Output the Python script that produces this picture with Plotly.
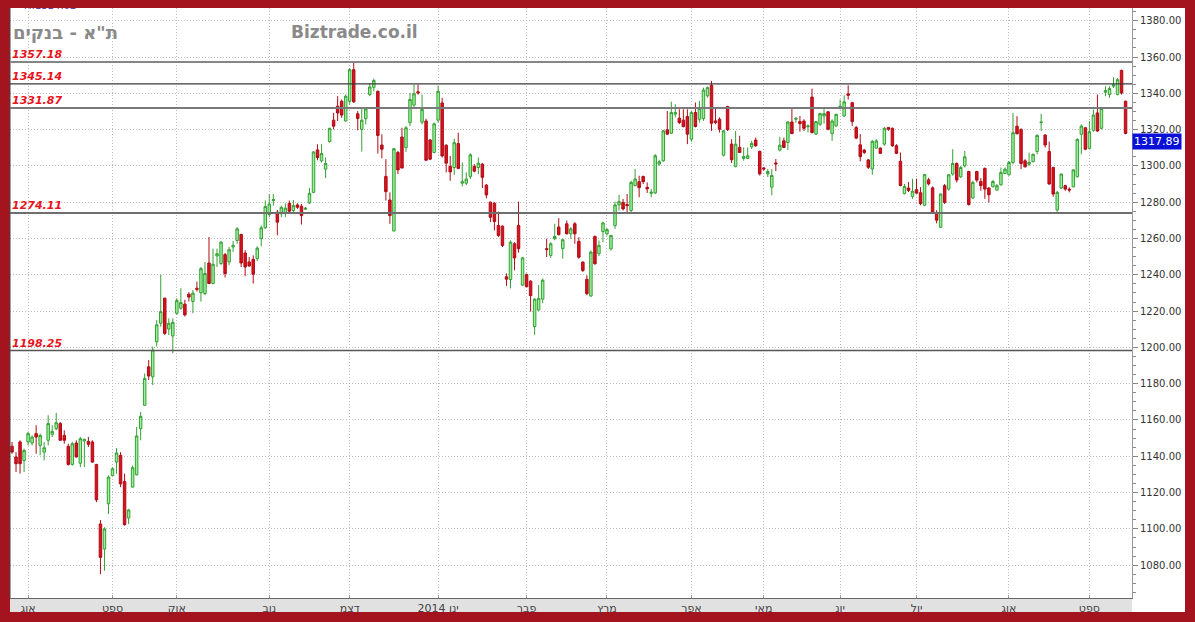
import plotly.graph_objects as go

# ---------------- data ----------------
opens = [
    1145.5, 1139.6, 1147.9, 1137.7, 1147.9, 1147.3, 1152.5, 1146.0, 1142.3, 1148.8,
    1152.1, 1155.2, 1158.0, 1151.5, 1145.5, 1135.5, 1147.3, 1136.2, 1148.4, 1148.2,
    1147.9, 1135.5, 1102.7, 1088.9, 1113.8, 1129.4, 1136.8, 1140.5, 1126.1, 1106.0,
    1123.0, 1129.8, 1155.2, 1168.1, 1189.3, 1183.8, 1203.1, 1213.3, 1227.1, 1210.1,
    1206.3, 1218.8, 1221.6, 1223.8, 1229.3, 1225.3, 1232.6,
    1230.1, 1229.7, 1246.5, 1235.2, 1250.4, 1246.2, 1251.1, 1247.1, 1255.3, 1258.9,
    1262.2, 1252.0, 1247.1, 1248.5, 1248.9, 1259.9, 1265.9, 1273.2, 1280.9, 1274.5,
    1273.6, 1274.3, 1279.4, 1275.4, 1278.5, 1277.8, 1276.1, 1279.6, 1285.4, 1308.8,
    1302.8, 1298.2, 1313.4, 1325.2, 1332.9, 1335.6, 1324.7, 1335.6, 1353.0, 1328.7,
    1320.1, 1326.0, 1339.3, 1343.3, 1341.1, 1311.5,
    1294.2, 1281.2, 1264.1, 1307.4, 1315.9, 1310.1, 1323.8, 1333.5, 1340.8, 1324.1,
    1324.7, 1314.3, 1307.4, 1325.2, 1334.7, 1311.4, 1299.7, 1299.1, 1312.3, 1290.5,
    1290.5, 1294.2, 1299.7, 1299.1, 1301.0, 1289.4, 1280.0, 1279.4, 1267.2, 1266.8,
    1238.9, 1237.4, 1257.1, 1267.2, 1234.3, 1240.1, 1236.5, 1211.5, 1220.6, 1226.6,
    1254.4, 1250.7, 1259.9, 1266.3, 1254.4,
    1268.1, 1262.6, 1268.1, 1258.4, 1247.0, 1237.5, 1228.3, 1261.1, 1251.6, 1263.8,
    1262.6, 1254.3, 1267.1, 1278.5, 1279.9, 1278.7, 1275.4, 1289.1, 1291.3, 1294.2,
    1288.2, 1284.9, 1285.1, 1301.0, 1302.8, 1319.9, 1318.0, 1328.5, 1326.3, 1325.2,
    1327.2, 1314.7, 1329.4, 1325.7, 1326.1, 1338.6, 1344.4, 1324.8, 1325.7, 1305.9,
    1332.7, 1312.0, 1299.7, 1310.2, 1304.1, 1304.1,
    1310.5, 1314.2, 1308.0, 1298.9, 1295.6, 1288.3, 1301.6, 1308.7, 1313.8, 1312.9,
    1324.2, 1325.7, 1324.4, 1324.7, 1321.5, 1337.9, 1317.5, 1322.9, 1327.5, 1329.8,
    1317.8, 1322.0, 1332.0, 1327.5, 1339.7, 1334.8, 1321.1, 1311.6, 1308.7, 1303.3,
    1298.3, 1309.8, 1309.8, 1312.0, 1321.1, 1320.7, 1311.1, 1302.5, 1284.7, 1287.8,
    1283.2, 1286.9, 1285.2, 1278.3, 1292.3, 1287.9, 1273.7,
    1266.2, 1289.1, 1287.2, 1295.5, 1301.3, 1294.0, 1300.0, 1296.9, 1282.3, 1296.9,
    1291.4, 1298.6, 1287.8, 1288.5, 1286.7, 1289.6, 1295.8, 1295.1, 1301.9, 1321.9,
    1320.1, 1302.8, 1300.9, 1302.4, 1307.9, 1323.8, 1317.0, 1307.9, 1299.1, 1275.7,
    1287.8, 1289.1, 1287.2, 1288.5, 1294.0, 1317.4, 1321.0, 1309.7, 1319.6, 1329.2,
    1320.7, 1340.6, 1339.3, 1343.9, 1339.3, 1352.6, 1335.6,
]
highs = [
    1147.9, 1142.3, 1148.8, 1144.2, 1153.4, 1151.5, 1157.1, 1152.5, 1147.9, 1162.6,
    1157.1, 1163.9, 1158.9, 1154.3, 1146.9, 1147.9, 1148.8, 1150.6, 1149.7, 1150.6,
    1148.8, 1135.8, 1104.9, 1100.9, 1129.4, 1134.0, 1144.5, 1142.3, 1130.4, 1111.0,
    1134.9, 1156.1, 1164.4, 1185.6, 1193.0, 1200.4, 1215.1, 1240.0, 1227.4, 1216.0,
    1216.0, 1227.1, 1232.6, 1226.2, 1230.4, 1231.7, 1236.3,
    1244.3, 1247.1, 1260.8, 1254.4, 1254.4, 1258.6, 1252.0, 1255.3, 1258.6, 1266.2,
    1262.6, 1253.5, 1249.8, 1250.7, 1255.7, 1267.2, 1280.9, 1284.5, 1284.5, 1275.7,
    1278.1, 1279.4, 1280.9, 1281.2, 1279.4, 1279.0, 1277.2, 1287.8, 1308.2, 1311.9,
    1311.9, 1304.6, 1321.0, 1329.2, 1338.4, 1336.6, 1339.3, 1353.9, 1357.2, 1330.2,
    1331.4, 1332.0, 1345.7, 1348.1, 1341.5, 1317.4,
    1303.7, 1285.4, 1309.5, 1308.3, 1321.0, 1321.9, 1340.2, 1344.8, 1344.8, 1339.3,
    1326.0, 1314.7, 1323.8, 1344.2, 1337.5, 1311.9, 1305.5, 1315.0, 1318.3, 1301.9,
    1296.4, 1307.0, 1301.0, 1304.6, 1301.5, 1290.0, 1280.3, 1280.0, 1274.8, 1267.2,
    1240.7, 1259.0, 1258.0, 1280.3, 1249.8, 1240.7, 1237.0, 1227.0, 1234.3, 1237.9,
    1259.9, 1258.0, 1268.1, 1271.2, 1259.9,
    1269.9, 1266.2, 1269.0, 1260.7, 1247.4, 1239.7, 1253.4, 1261.6, 1258.9, 1269.3,
    1265.7, 1262.0, 1280.3, 1284.0, 1281.8, 1284.5, 1291.9, 1298.3, 1294.6, 1294.6,
    1290.9, 1287.3, 1306.5, 1303.4, 1319.9, 1330.3, 1335.4, 1334.0, 1331.2, 1331.2,
    1331.2, 1330.3, 1334.9, 1335.8, 1343.1, 1343.7, 1346.8, 1332.1, 1326.7, 1319.7,
    1333.1, 1314.7, 1319.3, 1316.6, 1310.2, 1310.2,
    1313.8, 1315.6, 1308.4, 1299.2, 1298.3, 1298.3, 1303.8, 1316.0, 1315.6, 1324.7,
    1332.0, 1326.9, 1327.5, 1325.7, 1322.9, 1342.6, 1324.7, 1329.3, 1332.0, 1330.2,
    1325.7, 1328.8, 1336.6, 1338.9, 1344.4, 1335.3, 1322.0, 1317.5, 1309.3, 1303.8,
    1314.2, 1314.7, 1310.2, 1321.5, 1321.5, 1321.1, 1312.0, 1307.4, 1290.1, 1291.1,
    1292.9, 1292.9, 1288.3, 1295.6, 1293.4, 1288.7, 1275.6,
    1284.9, 1290.0, 1295.5, 1309.2, 1301.9, 1300.0, 1308.2, 1297.3, 1291.8, 1297.3,
    1293.3, 1299.1, 1288.2, 1292.2, 1290.0, 1299.1, 1299.1, 1302.8, 1329.2, 1327.4,
    1320.7, 1303.7, 1307.3, 1306.8, 1317.4, 1328.7, 1317.4, 1313.4, 1299.5, 1286.3,
    1295.8, 1289.6, 1288.2, 1298.2, 1315.2, 1322.9, 1321.4, 1324.7, 1331.1, 1339.3,
    1332.0, 1343.9, 1343.9, 1348.8, 1348.4, 1353.0, 1336.0,
]
lows = [
    1141.4, 1131.3, 1130.4, 1131.3, 1146.0, 1146.0, 1141.4, 1140.5, 1137.7, 1146.0,
    1150.6, 1154.3, 1148.5, 1146.9, 1134.9, 1134.9, 1139.3, 1134.0, 1134.0, 1145.1,
    1136.4, 1114.7, 1075.0, 1076.9, 1108.2, 1129.0, 1130.4, 1123.0, 1101.8, 1102.7,
    1122.8, 1129.4, 1148.8, 1167.9, 1182.0, 1179.2, 1200.4, 1211.4, 1206.8, 1206.8,
    1196.7, 1217.9, 1220.7, 1217.0, 1225.3, 1218.8, 1230.8,
    1225.2, 1228.8, 1234.9, 1234.8, 1244.3, 1245.3, 1238.5, 1245.3, 1252.6, 1257.1,
    1244.3, 1239.2, 1244.3, 1235.2, 1247.6, 1255.7, 1265.3, 1271.7, 1278.1, 1261.7,
    1271.7, 1271.7, 1273.9, 1274.5, 1276.3, 1267.7, 1275.7, 1279.0, 1285.0, 1303.1,
    1301.9, 1293.3, 1312.8, 1320.1, 1324.7, 1326.5, 1324.4, 1333.8, 1334.7, 1319.6,
    1307.9, 1322.9, 1338.4, 1341.1, 1306.8, 1304.2,
    1280.9, 1268.1, 1264.1, 1295.5, 1298.8, 1307.7, 1321.9, 1332.0, 1339.3, 1322.9,
    1302.8, 1303.3, 1307.0, 1323.8, 1304.6, 1296.4, 1291.8, 1294.9, 1298.2, 1288.7,
    1289.4, 1292.7, 1296.4, 1295.5, 1287.8, 1282.1, 1269.0, 1264.4, 1260.8, 1255.3,
    1233.9, 1232.5, 1242.5, 1252.2, 1233.9, 1233.4, 1219.7, 1206.9, 1220.1, 1224.3,
    1249.8, 1249.3, 1259.0, 1261.7, 1248.9,
    1262.2, 1259.8, 1257.1, 1248.8, 1241.5, 1228.7, 1227.8, 1245.5, 1250.3, 1258.0,
    1261.6, 1253.4, 1265.3, 1275.4, 1275.4, 1273.5, 1274.1, 1288.7, 1282.7, 1290.0,
    1285.1, 1282.7, 1284.5, 1300.1, 1302.3, 1317.1, 1317.5, 1326.7, 1323.0, 1321.2,
    1312.0, 1313.3, 1321.2, 1323.9, 1324.8, 1337.6, 1319.3, 1323.0, 1318.4, 1305.2,
    1319.3, 1301.6, 1299.2, 1307.1, 1302.8, 1303.8,
    1309.3, 1310.5, 1294.7, 1297.4, 1293.8, 1283.8, 1297.1, 1308.0, 1309.8, 1308.7,
    1317.5, 1323.8, 1318.9, 1319.3, 1318.4, 1317.8, 1317.1, 1322.0, 1323.3, 1319.6,
    1313.8, 1321.5, 1331.1, 1326.9, 1336.6, 1322.0, 1314.7, 1302.5, 1306.5, 1298.3,
    1295.2, 1309.3, 1306.5, 1311.1, 1319.3, 1310.5, 1306.5, 1288.7, 1284.3, 1285.6,
    1281.9, 1284.7, 1278.3, 1277.8, 1289.2, 1273.7, 1268.3,
    1265.9, 1279.0, 1286.3, 1294.6, 1290.9, 1293.3, 1299.1, 1278.1, 1281.8, 1290.9,
    1286.3, 1281.8, 1279.9, 1288.2, 1286.3, 1289.1, 1295.5, 1294.6, 1300.9, 1317.4,
    1298.2, 1299.1, 1300.0, 1301.9, 1306.4, 1319.2, 1310.1, 1289.6, 1283.0, 1274.5,
    1287.2, 1286.3, 1285.4, 1288.2, 1293.6, 1306.4, 1308.6, 1309.2, 1318.8, 1318.8,
    1320.1, 1338.4, 1337.5, 1342.9, 1338.9, 1339.3, 1317.4,
]
closes = [
    1142.3, 1135.9, 1135.9, 1143.2, 1152.5, 1150.6, 1150.6, 1151.5, 1144.7, 1158.0,
    1153.7, 1158.5, 1148.8, 1148.8, 1135.5, 1146.9, 1139.6, 1149.7, 1149.3, 1146.6,
    1136.8, 1116.0, 1084.3, 1099.9, 1128.5, 1133.1, 1141.8, 1124.8, 1102.3, 1110.4,
    1133.7, 1151.2, 1162.0, 1182.9, 1184.2, 1198.5, 1212.4, 1219.7, 1207.7, 1213.3,
    1213.8, 1225.8, 1224.7, 1217.9, 1227.7, 1229.9, 1232.0,
    1243.4, 1240.7, 1235.2, 1245.8, 1251.6, 1258.0, 1240.7, 1253.8, 1256.2, 1265.3,
    1246.5, 1244.3, 1244.9, 1240.3, 1254.7, 1265.9, 1277.6, 1279.0, 1281.4, 1269.0,
    1277.2, 1276.7, 1275.0, 1278.1, 1277.2, 1272.6, 1276.7, 1284.9, 1307.7, 1304.6,
    1306.8, 1301.3, 1320.7, 1321.9, 1329.2, 1328.0, 1338.4, 1353.0, 1335.3, 1326.1,
    1325.2, 1331.4, 1343.5, 1347.1, 1316.8, 1309.2,
    1285.8, 1272.6, 1309.5, 1297.8, 1298.8, 1321.0, 1336.6, 1339.7, 1340.2, 1331.1,
    1303.1, 1303.7, 1323.2, 1341.1, 1305.5, 1301.5, 1296.7, 1312.8, 1298.6, 1291.3,
    1292.7, 1306.1, 1297.1, 1301.5, 1293.7, 1284.0, 1271.7, 1269.4, 1261.7, 1256.2,
    1237.6, 1258.0, 1249.3, 1254.4, 1249.3, 1233.4, 1228.5, 1226.6, 1227.0, 1237.0,
    1253.9, 1257.1, 1261.1, 1262.1, 1259.3,
    1262.6, 1265.3, 1262.6, 1249.7, 1242.4, 1229.6, 1252.5, 1246.1, 1256.2, 1268.6,
    1264.9, 1261.6, 1278.5, 1280.3, 1276.3, 1278.1, 1290.9, 1292.8, 1288.0, 1291.3,
    1287.3, 1285.5, 1305.6, 1302.3, 1319.3, 1317.5, 1329.4, 1329.4, 1323.9, 1321.7,
    1317.5, 1329.4, 1321.7, 1331.6, 1341.8, 1343.1, 1323.5, 1323.9, 1320.2, 1319.3,
    1319.9, 1303.4, 1312.0, 1307.4, 1305.2, 1305.6,
    1312.4, 1311.1, 1295.6, 1298.3, 1296.9, 1294.7, 1301.1, 1311.4, 1310.2, 1324.2,
    1317.8, 1326.2, 1323.3, 1320.7, 1322.0, 1318.4, 1324.4, 1328.8, 1328.8, 1320.2,
    1324.7, 1328.4, 1332.9, 1335.3, 1338.9, 1324.4, 1315.3, 1305.1, 1307.4, 1299.2,
    1313.5, 1313.8, 1306.9, 1320.7, 1320.2, 1311.1, 1306.9, 1289.2, 1288.7, 1286.5,
    1286.1, 1285.0, 1279.2, 1295.2, 1290.1, 1274.1, 1270.1,
    1284.5, 1279.9, 1295.1, 1301.3, 1292.2, 1299.1, 1305.0, 1278.7, 1290.9, 1292.2,
    1289.1, 1287.2, 1284.1, 1291.4, 1289.1, 1296.4, 1298.2, 1301.9, 1318.3, 1317.7,
    1301.3, 1299.5, 1301.9, 1306.4, 1316.8, 1324.1, 1311.5, 1290.0, 1284.5, 1285.4,
    1295.5, 1287.2, 1286.7, 1297.8, 1314.6, 1321.9, 1309.2, 1318.8, 1328.0, 1319.2,
    1331.6, 1341.5, 1342.6, 1344.8, 1347.5, 1340.2, 1317.89,
]

month_start_idx = [4, 25, 41, 64, 84, 106, 128, 148, 169, 187, 206, 225, 248, 268]
month_labels = ["אוג", "ספט", "אוק", "נוב", "דצמ", "ינו 2014", "פבר", "מרץ",
                "אפר", "מאי", "יונ", "יול", "אוג", "ספט"]

level_values = [1357.18, 1345.14, 1331.87, 1274.11, 1198.25]
level_colors = ["#858585", "#3a3a3a", "#7a7a7a", "#6e6e6e", "#555555"]
level_widths = [2, 1.2, 2, 2, 1.5]

last_price = 1317.89
chart_title = 'ת"א - בנקים'
site_name = "Biztrade.co.il"
top_info = "H:1324.62"

# ---------------- figure ----------------
W, H = 1195, 622
ML, MR, MT, MB = 10, 63, 8, 24
PW = W - ML - MR
PH = H - MT - MB


def px_x(p):
    return (p - ML) / PW


def px_y(p):
    return (H - MB - p) / PH


x_idx = list(range(len(closes)))

fig = go.Figure()
fig.add_trace(go.Candlestick(
    x=x_idx, open=opens, high=highs, low=lows, close=closes,
    increasing=dict(fillcolor="#9cf09c", line=dict(color="#35a035", width=1)),
    decreasing=dict(fillcolor="#d8121e", line=dict(color="#b00c16", width=1)),
    whiskerwidth=0, hoverinfo="skip", showlegend=False,
))

fig.add_trace(go.Scatter(
    x=[3], y=[1387.6], mode="text", text=[top_info], textposition="middle right",
    textfont=dict(size=10, color="#6a40b0", family="DejaVu Sans"),
    cliponaxis=True, hoverinfo="skip", showlegend=False,
))

shapes = []
# white panel behind right axis
shapes.append(dict(type="rect", xref="paper", yref="paper",
                   x0=1.0, x1=px_x(1185), y0=px_y(612), y1=1.0,
                   fillcolor="white", line=dict(width=0), layer="below"))
# grey band for date axis
shapes.append(dict(type="rect", xref="paper", yref="paper",
                   x0=0, x1=1.0, y0=px_y(612), y1=0,
                   fillcolor="#e1e1e1", line=dict(width=0), layer="below"))
# left border
shapes.append(dict(type="line", xref="paper", yref="paper",
                   x0=0, x1=0, y0=0, y1=1, line=dict(color="#444", width=1)))
for v, c, w in zip(level_values, level_colors, level_widths):
    shapes.append(dict(type="line", xref="paper", yref="y", x0=0, x1=1,
                       y0=v, y1=v, line=dict(color=c, width=w)))

annotations = []
for v in level_values:
    annotations.append(dict(
        xref="paper", yref="y", x=px_x(11), y=v, xanchor="left", yanchor="bottom",
        text=f"<b><i>{v:.2f}</i></b>", showarrow=False,
        font=dict(family="DejaVu Sans", size=11, color="#e8141c"),
        borderpad=0,
    ))
annotations.append(dict(
    xref="paper", yref="paper", x=px_x(11), y=px_y(32), xanchor="left", yanchor="middle",
    text=f"<b>{chart_title}</b>", showarrow=False,
    font=dict(family="DejaVu Sans", size=18, color="#8a8a8a"),
))
annotations.append(dict(
    xref="paper", yref="paper", x=px_x(289), y=px_y(32), xanchor="left", yanchor="middle",
    text=f"<b>{site_name}</b>", showarrow=False,
    font=dict(family="DejaVu Sans", size=17, color="#8a8a8a"),
))
annotations.append(dict(
    xref="paper", yref="y", x=1.0, y=last_price, xanchor="left", yanchor="top",
    text=f"{last_price:.2f}", showarrow=False, bgcolor="#0a10d8",
    font=dict(family="DejaVu Sans", size=11, color="white"), borderpad=1,
))

fig.update_layout(
    width=W, height=H,
    margin=dict(l=ML, r=MR, t=MT, b=MB),
    paper_bgcolor="#a3141e", plot_bgcolor="white",
    showlegend=False, boxgap=0.12,
    shapes=shapes, annotations=annotations,
    xaxis=dict(
        range=[-0.5, 278.6], tickmode="array", tickvals=month_start_idx, ticktext=month_labels,
        showgrid=True, gridcolor="#bdbdbd", griddash="1px,2px", gridwidth=1,
        ticks="inside", ticklen=3, tickcolor="#999",
        tickfont=dict(family="DejaVu Sans", size=11, color="#444"),
        showline=True, linecolor="#666", linewidth=1, zeroline=False,
        rangeslider=dict(visible=False), fixedrange=True,
    ),
    yaxis=dict(
        side="right", range=[1061.9, 1387.0], tick0=0, dtick=20, tickformat=".2f",
        showgrid=True, gridcolor="#bdbdbd", griddash="1px,2px", gridwidth=1,
        ticks="outside", ticklen=5, tickcolor="#888",
        minor=dict(dtick=5, ticks="outside", ticklen=3, tickcolor="#888", showgrid=False),
        tickfont=dict(family="DejaVu Sans", size=10, color="#333"),
        showline=True, linecolor="#999", linewidth=1, zeroline=False, fixedrange=True,
    ),
)

fig.write_html(
    "out.html",
    config={"displayModeBar": False},
    post_script="document.body.style.margin='0px';document.body.style.padding='0px';"
                "document.documentElement.style.margin='0px';",
)
